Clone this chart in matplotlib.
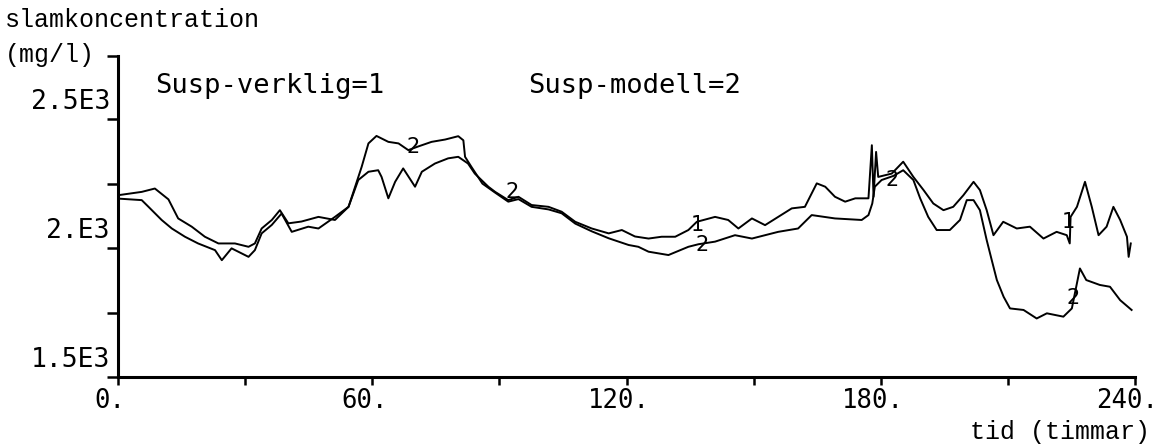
import matplotlib
matplotlib.use("Agg")
import matplotlib.pyplot as plt
from matplotlib.transforms import offset_copy, blended_transform_factory

# ---- data ----
t1 = [0, 5.6, 7.2, 10.3, 12.7, 15.8, 18.9, 22.9, 24.5, 26.8, 30.8, 32.3, 33.9, 36.3,
      38.6, 41.0, 44.9, 47.3, 51.2, 54.4, 56.7, 59.1, 61.4, 62.2, 63.8, 65.4, 67.3,
      70.1, 71.7, 74.8, 77.9, 80.3, 82.6, 84.2, 87.4, 89.0, 92.1, 94.5, 97.6, 101.6,
      104.7, 107.9, 111.8, 115.8, 118.9, 122.0, 125.2, 128.3, 131.5, 134.6, 136.6,
      140.9, 144.0, 146.4, 149.6, 152.7, 155.8, 159.0, 162.1, 164.9, 166.9, 169.2,
      171.6, 174.0, 177.1, 177.9, 178.3, 178.9, 179.4, 182.6, 185.3, 187.7, 190.1,
      192.4, 194.8, 197.1, 199.5, 201.9, 203.4, 205.0, 206.6, 208.9, 212.1, 215.2,
      218.4, 221.5, 223.9, 224.6, 224.8, 226.3, 228.2, 229.8, 231.4, 233.3, 234.9,
      236.5, 238.1, 238.5, 239.0]
v1 = [2192, 2186, 2160, 2109, 2076, 2044, 2018, 1992, 1953, 1999, 1966, 1992, 2057, 2090,
      2134, 2063, 2083, 2076, 2121, 2160, 2264, 2296, 2302, 2276, 2193, 2257, 2309,
      2238, 2296, 2328, 2348, 2354, 2328, 2289, 2238, 2218, 2186, 2199, 2167, 2160,
      2141, 2102, 2076, 2057, 2070, 2045, 2037, 2044, 2044, 2070, 2102,
      2121, 2109, 2076, 2115, 2089, 2121, 2154, 2160, 2251, 2238, 2199,
      2180, 2193, 2193, 2399, 2199, 2373, 2276, 2289, 2335, 2276, 2225,
      2173, 2147, 2160, 2205, 2257, 2225, 2147, 2050, 2102, 2076, 2083,
      2037, 2063, 2050, 2018, 2121, 2160, 2257, 2160, 2050, 2083, 2160,
      2109, 2044, 1966, 2018]

t2 = [0, 5.6, 8.7, 11.9, 14.2, 17.4, 20.5, 23.7, 27.6, 30.8, 32.3, 33.9, 36.3, 38.2,
      40.2, 43.3, 47.3, 51.2, 54.4, 57.5, 59.1, 61.0, 63.8, 66.2, 68.5, 71.0, 74.0,
      77.2, 80.3, 81.5, 81.9, 83.4, 86.0, 89.0, 92.1, 94.5, 97.6, 101.6, 104.7, 107.9,
      111.8, 115.8, 120.5, 122.8, 125.2, 129.9, 134.6, 137.0, 140.9, 145.6, 149.6,
      155.8, 160.5, 163.7, 169.2, 175.5, 177.1, 178.0, 178.6, 180.2, 183.0, 185.3,
      187.7, 189.3, 191.2, 193.2, 196.3, 198.7, 200.3, 201.9, 203.4, 205.0, 206.2,
      207.4, 209.0, 210.5, 213.7, 216.8, 219.2, 223.1, 225.1, 227.0, 228.5, 231.7,
      234.1, 236.5, 239.2]
v2 = [2205, 2218, 2231, 2189, 2115, 2083, 2044, 2018, 2018, 2005, 2018, 2076, 2109, 2147,
      2096, 2103, 2121, 2109, 2160, 2315, 2406, 2435, 2412, 2406, 2380, 2395, 2412,
      2421, 2434, 2418, 2354, 2315, 2250, 2215, 2180, 2190, 2160, 2150, 2135, 2095,
      2065, 2038, 2012, 2005, 1986, 1973, 2005, 2015, 2025, 2050, 2037,
      2063, 2076, 2128, 2115, 2109, 2128, 2173, 2238, 2264, 2280, 2302,
      2264, 2193, 2121, 2070, 2070, 2109, 2186, 2186, 2147, 2031, 1953,
      1876, 1811, 1766, 1760, 1727, 1747, 1734, 1766, 1921, 1876, 1857,
      1850, 1798, 1760]

# curve labels: (t, value, text)
lab_t = [69.6, 93.0, 136.6, 137.8, 182.6, 224.2, 225.4]
lab_v = [2391, 2217, 2089, 2012, 2264, 2101, 1806]
lab_s = ["2", "2", "1", "2", "2", "1", "2"]

x_ticks = [0, 60, 120, 180, 240]
x_labels = ["0.", "60.", "120.", "180.", "240."]
x_minor = [30, 90, 150, 210]
y_ticks = [1500, 2000, 2500]
y_labels = ["1.5E3", "2.E3", "2.5E3"]
y_minor = [1750, 2250, 2745]

W, H = 1173, 446
fig = plt.figure(figsize=(W / 100, H / 100), dpi=100)
ax = fig.add_axes([118 / W, 1 - 377 / H, (1135 - 118) / W, (377 - 56) / H])
ax.set_xlim(0, 240)
ax.set_ylim(1500, 2745)

ax.plot(t1, v1, color="black", lw=1.4)
ax.plot(t2, v2, color="black", lw=1.4)

for tt, vv, ss in zip(lab_t, lab_v, lab_s):
    ax.text(tt, vv, ss, fontsize=15, family="DejaVu Sans", ha="center", va="center",
            color="black")

for s in ["top", "right"]:
    ax.spines[s].set_visible(False)
for s in ["left", "bottom"]:
    ax.spines[s].set_linewidth(2.2)

ax.set_xticks(x_ticks + x_minor)
ax.set_xticklabels([])
ax.set_yticks(y_ticks + y_minor)
ax.set_yticklabels([])
ax.tick_params(axis="x", direction="out", length=6, width=1.8)
ax.tick_params(axis="y", direction="out", length=8, width=1.8)

mono = "DejaVu Sans Mono"
trx = blended_transform_factory(ax.transData, ax.transAxes)
for xv, lb in zip(x_ticks, x_labels):
    ax.text(xv, 0, lb, transform=offset_copy(trx, fig=fig, x=-8, y=-11, units="dots"),
            ha="center", va="top", fontsize=18.5, family=mono)

try_ = blended_transform_factory(ax.transAxes, ax.transData)
for yv, lb in zip(y_ticks, y_labels):
    ax.text(0, yv, lb, transform=offset_copy(try_, fig=fig, x=-8, y=4, units="dots"),
            ha="right", va="bottom", fontsize=19, family=mono)

ax.text(8.7, 2601, "Susp-verklig=1", fontsize=19.5, family=mono, va="baseline", ha="left")
ax.text(96.8, 2601, "Susp-modell=2", fontsize=19.5, family=mono, va="baseline", ha="left")

serif_mono = "Liberation Mono"
fig.text(5 / W, 1 - 20 / H, "slamkoncentration", fontsize=18, family=serif_mono,
         ha="left", va="center")
fig.text(5 / W, 1 - 55 / H, "(mg/l)", fontsize=18, family=serif_mono,
         ha="left", va="center")
fig.text(1150 / W, 1 - 432 / H, "tid (timmar)", fontsize=18, family=serif_mono,
         ha="right", va="center")

fig.savefig("out.png", dpi=100)
